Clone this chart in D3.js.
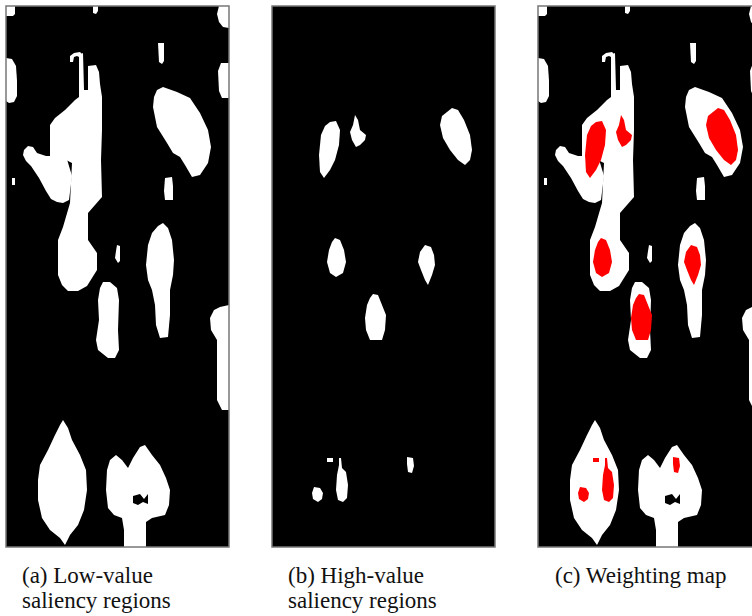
<!DOCTYPE html>
<html lang="en">
<head>
<meta charset="UTF-8">
<title>Saliency regions and weighting map</title>
<style>
  body { margin: 0; background: #fff; }
  svg { display: block; }
  .caption { font-family: "Liberation Serif", "Times New Roman", serif; font-size: 23px; fill: #111; }
</style>
</head>
<body>
<svg id="chart"></svg>
<script src="https://d3js.org/d3.v7.min.js"></script>
<script>
// mask size in map pixels
const MAP_W = 223, MAP_H = 541;

// low-value saliency regions (white blobs), outlines in map pixels
const lowRegions = [
  [[0,0],[9,0],[9,8],[7,10],[0,10]],
  [[87,0],[92,0],[92,5],[90,8],[87,7]],
  [[213,0],[223,0],[223,22],[217,21],[213,16],[211,8]],
  [[0,52],[6,53],[10,60],[11,75],[11,90],[8,96],[3,97],[0,95]],
  [[215,57],[223,57],[223,92],[216,92],[213,85],[212,65]],
  [[152,37],[158,37],[158,55],[156,58],[153,56]],
  [[6,172],[9,172],[9,179],[6,179]],
  [[64,54],[64,50],[68,47],[74,46],[77,49],[75,52],[71,50],[68,51],[67,56],[64,56]],
  [[73,49],[77,47],[78,84],[82,84],[82,60],[90,59],[93,66],[94,78],[96,91],[96,124],[95,154],[96,191],
   [89,199],[82,207],[82,234],[91,247],[91,264],[86,272],[81,280],[72,285],[62,285],[56,279],[52,269],
   [52,234],[57,221],[64,197],[66,157],[56,152],[44,152],[44,119],[49,112],[59,104],[69,94],[73,91]],
  [[18,144],[22,140],[27,141],[31,147],[40,150],[60,150],[66,170],[63,194],[57,197],[51,196],[45,193],
   [40,185],[33,172],[25,160],[20,155],[17,149]],
  [[151,84],[157,81],[171,86],[184,92],[194,107],[202,124],[205,141],[202,157],[194,169],[186,171],
   [179,159],[174,151],[167,147],[161,137],[151,121],[147,101],[148,91]],
  [[159,172],[166,171],[167,180],[167,194],[159,194],[158,185]],
  [[152,220],[157,217],[162,222],[166,234],[168,254],[167,269],[164,284],[164,309],[162,331],[154,332],
   [150,319],[149,299],[146,284],[142,274],[140,259],[142,239],[146,227]],
  [[111,239],[114,240],[114,255],[112,257],[109,252],[110,245]],
  [[97,276],[104,276],[111,282],[113,294],[112,324],[113,344],[109,352],[102,352],[92,344],[90,334],
   [93,314],[92,294],[94,282]],
  [[214,301],[223,299],[223,404],[216,404],[211,394],[211,334],[205,324],[204,312],[208,304]],
  [[57,414],[62,422],[66,434],[74,449],[80,464],[81,484],[78,504],[72,519],[64,529],[59,539],[54,532],
   [44,524],[36,512],[32,494],[32,474],[34,459],[42,444],[49,429],[54,419]],
  [[101,464],[104,454],[110,449],[116,454],[122,462],[127,452],[134,441],[139,439],[146,449],[154,459],
   [160,472],[164,484],[163,499],[159,509],[146,512],[140,516],[140,541],[118,541],[118,524],[116,512],
   [108,509],[102,502],[100,484]]
];

// holes inside the low-value regions
const lowHoles = [
  [[127,490],[134,488],[138,493],[142,488],[142,498],[137,496],[132,499],[127,497]]
];

// high-value saliency regions
const highRegions = [
  [[58,116],[64,115],[68,124],[67,139],[63,154],[58,164],[52,172],[48,166],[47,149],[49,129],[53,120]],
  [[83,109],[86,114],[88,124],[94,129],[93,134],[88,139],[84,141],[80,134],[78,126],[81,119]],
  [[175,106],[180,102],[186,104],[192,114],[198,129],[200,144],[198,154],[193,159],[186,154],[178,144],
   [171,132],[168,119],[170,110]],
  [[63,232],[68,234],[72,244],[74,256],[71,267],[64,271],[58,267],[55,256],[57,244],[60,236]],
  [[153,239],[159,241],[162,249],[163,259],[160,269],[156,279],[153,274],[149,264],[146,256],[148,246]],
  [[101,288],[106,289],[110,299],[114,309],[113,324],[110,334],[98,334],[94,324],[93,312],[95,299],[98,292]],
  [[55,452],[61,452],[61,456],[55,456]],
  [[67,452],[69,452],[70,462],[74,466],[76,479],[75,492],[71,496],[66,494],[64,484],[65,469],[67,459]],
  [[42,481],[48,482],[51,487],[50,493],[46,496],[41,493],[40,487]],
  [[135,451],[141,452],[142,460],[140,467],[136,466],[135,458]]
];

const panels = ['a', 'b', 'c'];
const captions = {
  a: ['(a) Low-value', 'saliency regions'],
  b: ['(b) High-value', 'saliency regions'],
  c: ['(c) Weighting map']
};

const width = 752, height = 616;
const svg = d3.select('#chart').attr('width', width).attr('height', height);

const panelX = d3.scaleBand().domain(panels).range([6, 761]).paddingInner(43 / 266);
const x = d3.scaleLinear().domain([0, MAP_W]).range([0, panelX.bandwidth()]);
const y = d3.scaleLinear().domain([0, MAP_H]).range([6, 547]);

const outline = d3.line().x(d => x(d[0])).y(d => y(d[1])).curve(d3.curveLinearClosed);

const defs = svg.append('defs');
defs.append('clipPath').attr('id', 'frameClip')
  .append('rect').attr('x', x(0)).attr('y', y(0))
  .attr('width', x(MAP_W) - x(0)).attr('height', y(MAP_H) - y(0));

panels.forEach(p => {
  const g = svg.append('g').attr('transform', `translate(${panelX(p)},0)`);
  const maps = g.append('g').attr('clip-path', 'url(#frameClip)');

  maps.append('rect')
    .attr('x', x(0)).attr('y', y(0))
    .attr('width', x(MAP_W) - x(0)).attr('height', y(MAP_H) - y(0))
    .attr('fill', '#000');

  if (p !== 'b') {
    maps.selectAll('.low').data(lowRegions).join('path')
      .attr('class', 'low').attr('d', outline).attr('fill', '#fff');
    maps.selectAll('.hole').data(lowHoles).join('path')
      .attr('class', 'hole').attr('d', outline).attr('fill', '#000');
  }
  if (p === 'b') {
    maps.selectAll('.high').data(highRegions).join('path')
      .attr('class', 'high').attr('d', outline).attr('fill', '#fff');
  }
  if (p === 'c') {
    // weighting map: high-value regions marked in red on top of the low-value mask
    maps.selectAll('.weight').data(highRegions).join('path')
      .attr('class', 'weight').attr('d', outline).attr('fill', '#ff0000');
  }

  g.append('rect')
    .attr('x', x(0)).attr('y', y(0))
    .attr('width', x(MAP_W) - x(0)).attr('height', y(MAP_H) - y(0))
    .attr('fill', 'none').attr('stroke', '#777').attr('stroke-width', 1.5);

  g.append('text').attr('class', 'caption')
    .selectAll('tspan').data(captions[p]).join('tspan')
    .attr('x', p === 'c' ? 17 : 16)
    .attr('y', (d, i) => 583 + i * 25)
    .text(d => d);
});
</script>
</body>
</html>
